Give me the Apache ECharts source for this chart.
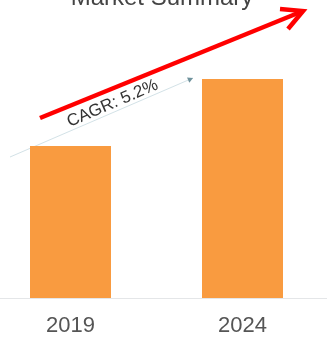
<!DOCTYPE html>
<html>
<head>
<meta charset="utf-8">
<script src="https://cdn.jsdelivr.net/npm/echarts@6/dist/echarts.min.js"></script>
<style>
  html, body { margin: 0; padding: 0; background: #ffffff; }
  #chart { width: 327px; height: 338px; }
</style>
</head>
<body>
<div id="chart"></div>
<script>
// Market size by year
const years = ['2019', '2024'];
const marketSize = [15.2, 21.9];
const cagrText = 'CAGR: 5.2%';
const titleText = 'Market Summary';

const FONT = '"Liberation Sans", Arial, sans-serif';

const chart = echarts.init(document.getElementById('chart'), null, { renderer: 'canvas' });

chart.setOption({
  backgroundColor: '#ffffff',
  animation: false,
  grid: { left: -15.5, width: 344, top: 48, height: 250, outerBoundsMode: 'none' },
  xAxis: {
    type: 'category',
    data: years,
    axisLine: { lineStyle: { color: '#e4e6e8', width: 1 } },
    axisTick: { show: false },
    axisLabel: { color: '#555555', fontSize: 22, fontFamily: FONT, margin: 17 }
  },
  yAxis: {
    type: 'value',
    min: 0,
    max: 25,
    show: false,
    splitLine: { show: false }
  },
  series: [{
    type: 'bar',
    data: marketSize,
    barWidth: 81,
    itemStyle: { color: '#f99b40' }
  }]
});

// Annotations placed relative to the bar tops
const p0 = chart.convertToPixel({ seriesIndex: 0 }, [0, marketSize[0]]);
const p1 = chart.convertToPixel({ seriesIndex: 0 }, [1, marketSize[1]]);
const half = 40.5;

const trendStart = [p0[0] - half - 20, p0[1] + 11];
const trendEnd = [p1[0] - half - 9, p1[1] - 1];
const ang = Math.atan2(trendEnd[1] - trendStart[1], trendEnd[0] - trendStart[0]);

// small arrow head of the trend line
const ah = 6;
const headPts = [
  trendEnd,
  [trendEnd[0] - ah * Math.cos(ang - 0.5), trendEnd[1] - ah * Math.sin(ang - 0.5)],
  [trendEnd[0] - ah * Math.cos(ang + 0.5), trendEnd[1] - ah * Math.sin(ang + 0.5)]
];

const textPos = [
  (trendStart[0] + trendEnd[0]) / 2 + 11,
  (trendStart[1] + trendEnd[1]) / 2 - 14
];

chart.setOption({
  graphic: [
    {
      type: 'text',
      x: 162, y: 10,
      style: {
        text: titleText,
        fill: '#444444',
        font: '24px ' + FONT,
        align: 'center',
        verticalAlign: 'bottom'
      }
    },
    {
      type: 'line',
      shape: { x1: trendStart[0], y1: trendStart[1], x2: trendEnd[0], y2: trendEnd[1] },
      style: { stroke: '#d3e2e7', lineWidth: 1 }
    },
    {
      type: 'polygon',
      shape: { points: headPts },
      style: { fill: '#6f929c' }
    },
    {
      type: 'text',
      x: textPos[0], y: textPos[1],
      rotation: -ang,
      style: {
        text: cagrText,
        fill: '#333333',
        font: '17px ' + FONT,
        align: 'center',
        verticalAlign: 'middle'
      }
    },
    {
      type: 'line',
      shape: { x1: 40, y1: 118, x2: 303, y2: 11 },
      style: { stroke: '#ff0000', lineWidth: 4.5 }
    },
    {
      type: 'polyline',
      shape: { points: [[280, 9], [303, 11], [288, 29]] },
      style: { stroke: '#ff0000', lineWidth: 4.5, lineJoin: 'miter', fill: null }
    }
  ]
});
</script>
</body>
</html>
